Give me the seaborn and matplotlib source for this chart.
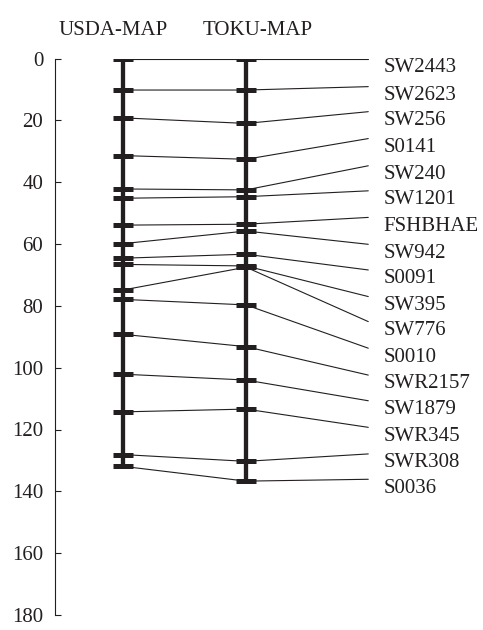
import matplotlib
matplotlib.use("Agg")
import matplotlib.pyplot as plt
import seaborn as sns
import pandas as pd

# ---- data ----
markers = ["SW2443", "SW2623", "SW256", "S0141", "SW240", "SW1201", "FSHBHAE",
           "SW942", "S0091", "SW395", "SW776", "S0010", "SWR2157", "SW1879",
           "SWR345", "SWR308", "S0036"]
usda_cm = [0, 10.2, 19.2, 31.4, 42.2, 45.2, 53.9, 59.9, 64.6, 66.6, 74.9,
           77.9, 89.2, 102.1, 114.3, 128.1, 131.9]
toku_cm = [0, 10.2, 21.0, 32.6, 42.5, 44.7, 53.6, 55.8, 63.3, 67.1, 67.5,
           79.7, 93.2, 104.0, 113.4, 130.3, 136.7]
label_cm = [0, 9.1, 17.2, 25.9, 34.7, 42.8, 51.4, 60.1, 68.4, 77.0, 85.1,
            93.7, 102.4, 110.7, 119.3, 127.9, 136.1]
map_names = ["USDA-MAP", "TOKU-MAP"]
y_ticks = [0, 20, 40, 60, 80, 100, 120, 140, 160, 180]

# ---- layout / style ----
INK = "#231f20"
X_USDA, X_TOKU, X_END = 1.0, 2.0, 2.99

sns.set_theme(style="white")
plt.rcParams["font.family"] = ["Liberation Serif", "DejaVu Serif"]
plt.rcParams["text.color"] = INK

fig = plt.figure(figsize=(4.83, 6.30), dpi=100)
ax = fig.add_axes([55 / 483, 1 - 615 / 630, 1 - 55 / 483, (615 - 58.5) / 630])

# connecting lines
rows = []
for i, name in enumerate(markers):
    rows.append(dict(marker=name, x=X_USDA, y=usda_cm[i], step=0))
    rows.append(dict(marker=name, x=X_TOKU, y=toku_cm[i], step=1))
    rows.append(dict(marker=name, x=X_END, y=label_cm[i], step=2))
links = pd.DataFrame(rows)
sns.lineplot(data=links, x="x", y="y", units="marker", estimator=None,
             sort=False, color=INK, lw=0.8, ax=ax, legend=False)

# vertical chromosome bars
bars = pd.DataFrame(dict(
    map=["USDA", "USDA", "TOKU", "TOKU"],
    x=[X_USDA, X_USDA, X_TOKU, X_TOKU],
    y=[min(usda_cm), max(usda_cm), min(toku_cm), max(toku_cm)]))
sns.lineplot(data=bars, x="x", y="y", units="map", estimator=None, sort=False,
             color=INK, lw=3.1, ax=ax, legend=False, solid_capstyle="butt")

# marker ticks on each map
pts = pd.DataFrame(dict(x=[X_USDA] * len(usda_cm) + [X_TOKU] * len(toku_cm),
                        y=usda_cm + toku_cm))
ax.plot(pts["x"], pts["y"], linestyle="none", marker="_", markersize=15.0,
        markeredgewidth=3.6, color=INK, zorder=5)

# labels
for name, yv in zip(markers, label_cm):
    ax.annotate(name, xy=(X_END, yv), xytext=(11, -9.6),
                textcoords="offset points", va="baseline", ha="left",
                fontsize=15, color=INK, annotation_clip=False)

# headers
for name, xh in zip(map_names, [0.927, 2.097]):
    ax.text(xh, -8.9, name, ha="center", va="center", fontsize=15,
            color=INK, clip_on=False)

ax.set_xlim(1 - 67.5 / 123.5, 2 + 237 / 123.5)
ax.set_ylim(180, 0)
ax.set_yticks(y_ticks)
ax.set_yticklabels([str(t) for t in y_ticks])
ax.set_xticks([])
ax.set_xlabel("")
ax.set_ylabel("")
for s in ["top", "right", "bottom"]:
    ax.spines[s].set_visible(False)
ax.spines["left"].set_color(INK)
ax.spines["left"].set_linewidth(0.8)
ax.tick_params(axis="y", direction="in", length=4.5, width=0.8, color=INK,
               pad=8.5, labelsize=15, labelcolor=INK, left=True)
ax.patch.set_alpha(0)
ax.grid(False)

fig.savefig("out.png", dpi=100, facecolor="white")
